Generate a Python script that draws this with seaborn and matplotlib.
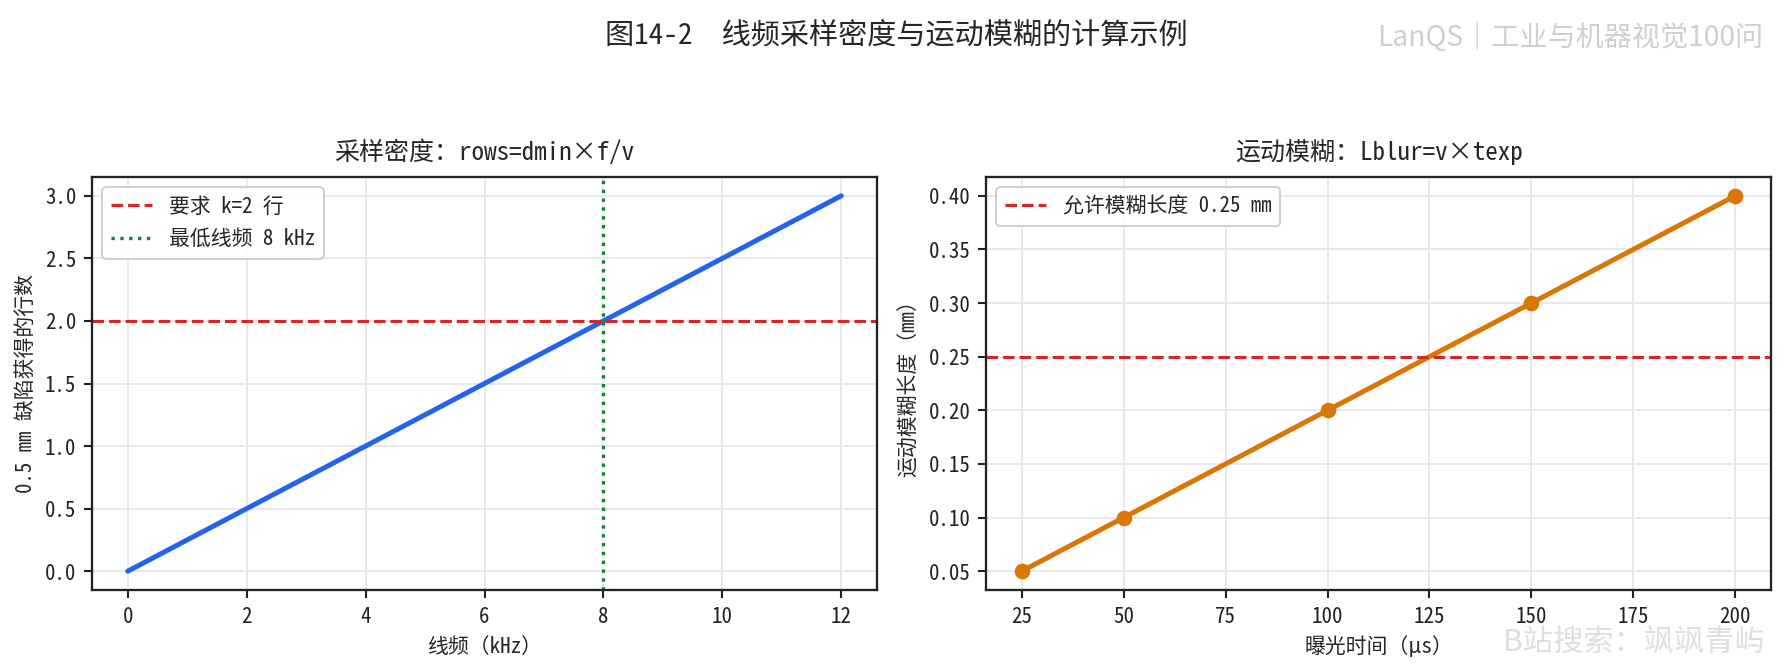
import matplotlib
matplotlib.use("Agg")
import matplotlib.pyplot as plt
import seaborn as sns
import pandas as pd

# ---- data ----
line_freq_khz = [0, 2, 4, 6, 8, 10, 12]
rows_obtained = [0.0, 0.5, 1.0, 1.5, 2.0, 2.5, 3.0]
required_rows = 2.0
min_freq_khz = 8

exposure_us = [25, 50, 100, 150, 200]
blur_mm = [0.05, 0.10, 0.20, 0.30, 0.40]
allowed_blur_mm = 0.25

left_xticks = [0, 2, 4, 6, 8, 10, 12]
left_yticks = [0.0, 0.5, 1.0, 1.5, 2.0, 2.5, 3.0]
right_xticks = [25, 50, 75, 100, 125, 150, 175, 200]
right_yticks = [0.05, 0.10, 0.15, 0.20, 0.25, 0.30, 0.35, 0.40]

sns.set_theme(style="ticks")
FAM = ['Noto Sans Mono CJK SC', 'Noto Sans CJK SC', 'DejaVu Sans']
plt.rcParams['font.family'] = FAM
plt.rcParams['axes.unicode_minus'] = False

W, H, DPI = 1786, 669, 150
fig = plt.figure(figsize=(W / DPI, H / DPI), dpi=DPI)
top, bot = 177, 590
ax1 = fig.add_axes([92 / W, 1 - bot / H, (877 - 92) / W, (bot - top) / H])
ax2 = fig.add_axes([986 / W, 1 - bot / H, (1771 - 986) / W, (bot - top) / H])

df1 = pd.DataFrame({"f": line_freq_khz, "rows": rows_obtained})
df2 = pd.DataFrame({"t": exposure_us, "blur": blur_mm})

blue = "#2563eb"
orange = "#d97706"
red = "#d62728"
green = "#15803d"

for ax in (ax1, ax2):
    ax.grid(True, color="#e8e8e8", linewidth=0.9)
    ax.set_axisbelow(True)
    for s in ax.spines.values():
        s.set_color("#222222")
        s.set_linewidth(1.1)
    ax.tick_params(axis="both", labelsize=10, colors="#222222", length=4, width=1)

sns.lineplot(data=df1, x="f", y="rows", ax=ax1, color=blue, linewidth=2.4, legend=False)
ax1.axhline(required_rows, color=red, linestyle="--", linewidth=1.5, label="要求 k=2 行")
ax1.axvline(min_freq_khz, color=green, linestyle=":", linewidth=1.6, label="最低线频 8 kHz")
ax1.set_xlim(-0.6, 12.6)
ax1.set_ylim(-0.15, 3.15)
ax1.set_xticks(left_xticks)
ax1.set_yticks(left_yticks)
ax1.set_yticklabels([f"{v:.1f}" for v in left_yticks])
ax1.set_title("采样密度：rows=dmin×f/v", fontsize=12, pad=8)
ax1.set_xlabel("线频（kHz）", fontsize=10)
ax1.set_ylabel("0.5 mm 缺陷获得的行数", fontsize=10)
ax1.legend(loc="upper left", fontsize=10, frameon=True, framealpha=0.9, edgecolor="#cccccc")

sns.lineplot(data=df2, x="t", y="blur", ax=ax2, color=orange, linewidth=2.4,
             marker="o", markersize=7.5, markeredgewidth=0, legend=False)
ax2.axhline(allowed_blur_mm, color=red, linestyle="--", linewidth=1.5, label="允许模糊长度 0.25 mm")
ax2.set_xlim(16.25, 208.75)
ax2.set_ylim(0.0325, 0.4175)
ax2.set_xticks(right_xticks)
ax2.set_yticks(right_yticks)
ax2.set_yticklabels([f"{v:.2f}" for v in right_yticks])
ax2.set_title("运动模糊：Lblur=v×texp", fontsize=12, pad=8)
ax2.set_xlabel("曝光时间（μs）", fontsize=10)
ax2.set_ylabel("运动模糊长度（mm）", fontsize=10)
ax2.legend(loc="upper left", fontsize=10, frameon=True, framealpha=0.9, edgecolor="#cccccc")

fig.suptitle("图14-2　线频采样密度与运动模糊的计算示例", x=896 / W, y=1 - 36 / H,
             va="center", fontsize=14)
fig.text(1763 / W, 1 - 38 / H, "LanQS｜工业与机器视觉100问", ha="right", va="center",
         fontsize=13.5, color="#cfcfcf", family=['Noto Sans CJK SC', 'DejaVu Sans'])
fig.text(1765 / W, 1 - 642 / H, "B站搜索：飒飒青屿", ha="right", va="center",
         fontsize=14.5, color="#dedede", family=['Noto Sans CJK SC', 'DejaVu Sans'])

fig.savefig("out.png", dpi=DPI)
